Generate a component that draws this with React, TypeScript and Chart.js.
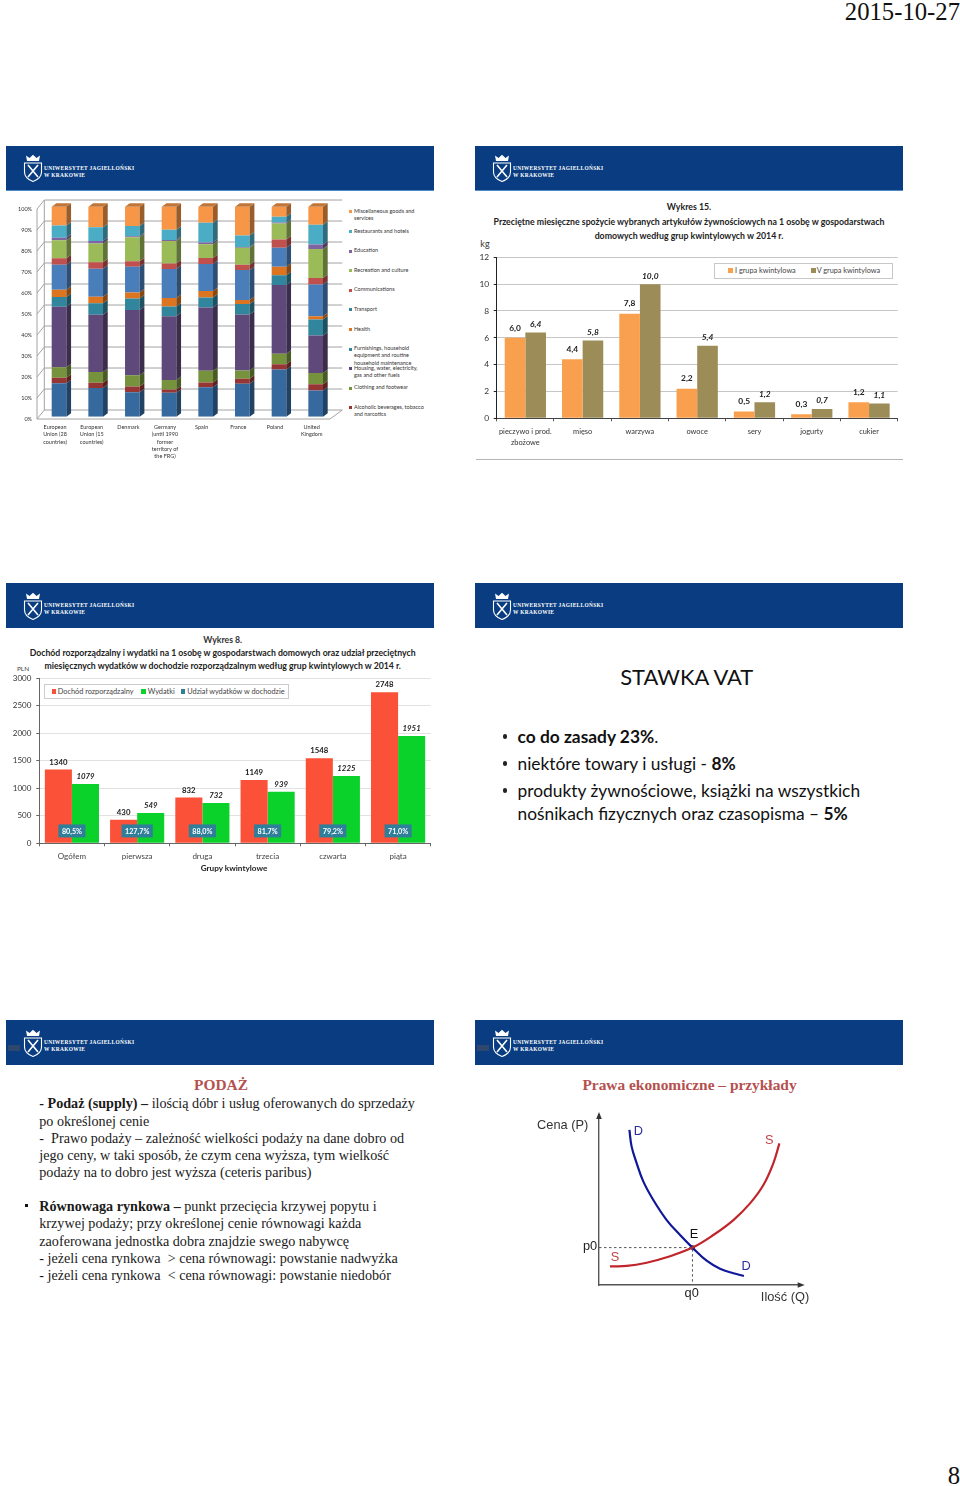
import React, { useEffect, useRef } from "react";
import { Chart, registerables } from "chart.js";

Chart.register(...registerables);

/* ---------- data ---------- */
const countries = [
  ["European", "Union (28", "countries)"],
  ["European", "Union (15", "countries)"],
  ["Denmark"],
  ["Germany", "(until 1990", "former", "territory of", "the FRG)"],
  ["Spain"],
  ["France"],
  ["Poland"],
  ["United", "Kingdom"],
];
const food = [15.9, 13.7, 11.7, 11.4, 14, 15.7, 22.5, 12.5];
const alcohol = [2.7, 2.5, 2.7, 1.6, 2.3, 2.4, 2.5, 2.9];
const clothing = [4.9, 5.1, 5.3, 4.5, 5.6, 3.9, 5, 5.4];
const housing = [28.8, 27.3, 31.1, 30.3, 30.1, 26.7, 32.7, 17.9];
const furnishings = [4.7, 5.4, 5.5, 4.7, 4.8, 5, 4.6, 7.6];
const health = [3.5, 3.1, 2.9, 4, 3, 1.9, 4.1, 1.5];
const transport = [11.8, 13.4, 12.2, 13.8, 12.9, 14.2, 9.1, 15.2];
const communications = [3.1, 3, 2.6, 2.7, 2.9, 2.6, 3.9, 3];
const recreation = [8.6, 9, 11.4, 10.7, 6.5, 8.1, 7.6, 13.8];
const education = [1.2, 1.2, 0.5, 0.4, 0.8, 0.3, 0.5, 2.2];
const restaurants = [5.8, 6.5, 4.9, 4.9, 9.5, 5.5, 2.7, 9.4];
const misc = [9, 9.8, 9.2, 11, 7.6, 13.7, 4.8, 8.6];
const stackSeries = [food, alcohol, clothing, housing, furnishings, health, transport, communications, recreation, education, restaurants, misc];
const stackColors = ["#366a9f", "#963634", "#76923c", "#5f497a", "#31859c", "#dc7420", "#4a7ebb", "#c0504d", "#9bbb59", "#8064a2", "#4bacc6", "#f79646"];
const stackLegend: [string[], number, string][] = [
  [["Miscellaneous goods and", "services"], 211.5, "#f79646"],
  [["Restaurants and hotels"], 231.5, "#4bacc6"],
  [["Education"], 251, "#8064a2"],
  [["Recreation and culture"], 270.5, "#9bbb59"],
  [["Communications"], 290, "#c0504d"],
  [["Transport"], 309.5, "#31859c"],
  [["Health"], 329.5, "#dc7420"],
  [["Furnishings, household", "equipment and routine", "household maintenance"], 349, "#31859c"],
  [["Housing, water, electricity,", "gas and other fuels"], 368.5, "#5f497a"],
  [["Clothing and footwear"], 388, "#76923c"],
  [["Alcoholic beverages, tobacco", "and narcotics"], 407.5, "#963634"],
];

const foods = [["pieczywo i prod.", "zbożowe"], "mięso", "warzywa", "owoce", "sery", "jogurty", "cukier"];
const foodQ1 = [6.0, 4.4, 7.8, 2.2, 0.5, 0.3, 1.2];
const foodQ5 = [6.4, 5.8, 10.0, 5.4, 1.2, 0.7, 1.1];

const groups = ["Ogółem", "pierwsza", "druga", "trzecia", "czwarta", "piąta"];
const income = [1340, 430, 832, 1149, 1548, 2748];
const spending = [1079, 549, 732, 939, 1225, 1951];
const shares = ["80,5%", "127,7%", "88,0%", "81,7%", "79,2%", "71,0%"];

const demandCurve = [[15, 91.2], [16.1, 81.4], [18.6, 71.6], [21.9, 60.8], [26.8, 50], [33.4, 38.2], [40, 29.4], [46.1, 22], [53.1, 14.3], [59.7, 9.6], [66.3, 6.9], [71.5, 5.3]];
const supplyCurve = [[5.4, 11], [13.7, 11.2], [23.5, 13.1], [33.4, 16.3], [46.1, 22], [56.4, 29.4], [66.3, 38.2], [74.5, 48], [81.1, 58.8], [86, 71.6], [89, 83.3]];
const equilibrium = [46.1, 22];

/* ---------- helpers ---------- */
const SANS = "Lato, 'Open Sans', sans-serif";
const SERIF = "'Liberation Serif', serif";

function shade(hex: string, k: number) {
  const n = parseInt(hex.slice(1), 16);
  const c = [(n >> 16) & 255, (n >> 8) & 255, n & 255].map((v) => Math.round(v * k));
  return `rgb(${c[0]},${c[1]},${c[2]})`;
}
const pt = (p: number[]) => ({ x: p[0], y: p[1] });

function ChartBox({ left, top, width, height, make }: any) {
  const ref = useRef<HTMLCanvasElement>(null);
  useEffect(() => {
    const c = new Chart(ref.current as any, make());
    return () => c.destroy();
  }, []);
  return <canvas ref={ref} width={width} height={height} style={{ position: "absolute", left, top, width, height, display: "block", filter: "blur(0.4px)" }} />;
}

function T({ x, y, size, color = "#222", font = SANS, weight = 400, italic = false, anchor = "left", children, spacing }: any) {
  const tx = anchor === "center" ? "-50%" : anchor === "right" ? "-100%" : "0";
  return (
    <div style={{ position: "absolute", left: x, top: y, transform: `translate(${tx},-50%)`, fontSize: size, color, fontFamily: font, fontWeight: weight, fontStyle: italic ? "italic" : "normal", whiteSpace: "pre", lineHeight: 1, letterSpacing: spacing }}>
      {children}
    </div>
  );
}
function Swatch({ x, y, w = 3, h = 3, color }: any) {
  return <div style={{ position: "absolute", left: x, top: y - h / 2, width: w, height: h, background: color }} />;
}
function Dot({ x, y }: any) {
  return <div style={{ position: "absolute", left: x - 2.1, top: y - 2.1, width: 4.2, height: 4.2, borderRadius: "50%", background: "#222" }} />;
}
function Logo({ x, y }: any) {
  return (
    <svg style={{ position: "absolute", left: x, top: y }} width="20" height="29" viewBox="0 0 20 29">
      <g fill="#fff">
        <path d="M4 7 L3 1.5 L6.5 4 L10 0.8 L13.5 4 L17 1.5 L16 7 Z" />
      </g>
      <path d="M1.5 9 H18.5 V18 C18.5 23 14 26 10 27.5 C6 26 1.5 23 1.5 18 Z" fill="none" stroke="#fff" strokeWidth="1.1" />
      <path d="M5 11 L15 23 M15 11 L5 23" stroke="#fff" strokeWidth="1.6" />
    </svg>
  );
}
function Header({ x, y, edge, ghost }: any) {
  return (
    <>
      <div style={{ position: "absolute", left: x, top: y, width: 428, height: 45, background: "#093c80", borderBottom: edge ? "1px solid #4f8bc4" : undefined, boxSizing: "border-box" }} />
      {ghost && <div style={{ position: "absolute", left: x + 2, top: y + 25, width: 12, height: 6, background: "#3a4a68", opacity: 0.8 }} />}
      <Logo x={x + 17} y={y + 8.5} />
      <T x={x + 38} y={y + 23} size={5.4} color="#fff" font={SERIF} weight={700} spacing="0.32px">UNIWERSYTET JAGIELLOŃSKI</T>
      <T x={x + 38} y={y + 30} size={5.4} color="#fff" font={SERIF} weight={700} spacing="0.32px">W KRAKOWIE</T>
    </>
  );
}

const baseOpts = { responsive: false, animation: false as const, events: [] as any[] };

/* ---------- chart configs ---------- */
function makeStack() {
  const depth = { dx: 4.7, dy: 3.5 };
  const wall = {
    id: "wall",
    beforeDatasetsDraw(c: any) {
      const { ctx, scales } = c;
      const y = scales.y;
      ctx.save();
      ctx.strokeStyle = "#a3a3a3";
      ctx.lineWidth = 1;
      const x0 = 37, x1 = 44.3, x2 = 342.3;
      for (const t of y.ticks) {
        const py = y.getPixelForValue(t.value) - 6.67;
        ctx.beginPath();
        ctx.moveTo(x0, py + 9);
        ctx.lineTo(x1, py);
        ctx.lineTo(x2, py);
        ctx.stroke();
      }
      const by = y.getPixelForValue(0);
      ctx.beginPath();
      ctx.moveTo(x0, by + 2.33);
      ctx.lineTo(330, by + 2.33);
      ctx.lineTo(x2, by - 6.67);
      ctx.moveTo(x0, by + 2.33);
      ctx.lineTo(x0, y.getPixelForValue(100) + 2.33);
      ctx.moveTo(x1, by - 6.67);
      ctx.lineTo(x1, y.getPixelForValue(100) - 6.67);
      ctx.stroke();
      ctx.restore();
    },
    afterDatasetsDraw(c: any) {
      const ctx = c.ctx;
      const metas = c.getSortedVisibleDatasetMetas();
      ctx.save();
      metas.forEach((m: any, mi: number) => {
        const col = stackColors[m.index];
        m.data.forEach((b: any) => {
          const r = b.x + b.width / 2, l = b.x - b.width / 2;
          ctx.fillStyle = shade(col, 0.62);
          ctx.beginPath();
          ctx.moveTo(r, b.y);
          ctx.lineTo(r + depth.dx, b.y - depth.dy);
          ctx.lineTo(r + depth.dx, b.base - depth.dy);
          ctx.lineTo(r, b.base);
          ctx.closePath();
          ctx.fill();
          if (mi === metas.length - 1) {
            ctx.fillStyle = shade(col, 0.78);
            ctx.beginPath();
            ctx.moveTo(l, b.y);
            ctx.lineTo(l + depth.dx, b.y - depth.dy);
            ctx.lineTo(r + depth.dx, b.y - depth.dy);
            ctx.lineTo(r, b.y);
            ctx.closePath();
            ctx.fill();
          }
        });
      });
      ctx.restore();
    },
  };
  return {
    type: "bar",
    data: {
      labels: countries,
      datasets: stackSeries.map((data, i) => ({ data, backgroundColor: stackColors[i], categoryPercentage: 1, barPercentage: 0.4, borderWidth: 0 })),
    },
    options: {
      ...baseOpts,
      layout: { padding: { left: 0, top: 21.7, right: 11, bottom: 0 } },
      plugins: { legend: { display: false }, tooltip: { enabled: false } },
      scales: {
        x: {
          stacked: true,
          grid: { display: false, drawTicks: false },
          border: { display: false },
          afterFit: (s: any) => { s.height = 53.3; },
          ticks: { autoSkip: false, maxRotation: 0, minRotation: 0, labelOffset: -4, padding: 7, color: "#333", font: { family: SANS, size: 5.5, lineHeight: 1.33 } },
        },
        y: {
          stacked: true,
          min: 0,
          max: 100,
          grid: { display: false, drawTicks: false },
          border: { display: false },
          afterFit: (s: any) => { s.width = 40.7; },
          ticks: { stepSize: 10, labelOffset: 2.33, padding: 8.7, color: "#333", callback: (v: any) => `${v}%`, font: { family: SANS, size: 5.5 } },
        },
      },
    },
    plugins: [wall],
  };
}

function makeFood() {
  const labels = {
    id: "valueLabels",
    afterDatasetsDraw(c: any) {
      const ctx = c.ctx;
      ctx.save();
      ctx.textAlign = "center";
      ctx.textBaseline = "middle";
      ctx.fillStyle = "#1c1c1c";
      c.getSortedVisibleDatasetMetas().forEach((m: any) => {
        const second = m.index === 1;
        ctx.font = `${second ? "italic " : ""}bold 8.4px ${SANS}`;
        m.data.forEach((b: any, i: number) => {
          const v = (second ? foodQ5 : foodQ1)[i].toFixed(1).replace(".", ",");
          ctx.fillText(v, b.x, b.y - (second ? 8.3 : 10));
        });
      });
      ctx.restore();
    },
  };
  return {
    type: "bar",
    data: {
      labels: foods,
      datasets: [
        { label: "I grupa kwintylowa", data: foodQ1, backgroundColor: "#f9a04e", categoryPercentage: 0.72, barPercentage: 1 },
        { label: "V grupa kwintylowa", data: foodQ5, backgroundColor: "#9c8d58", categoryPercentage: 0.72, barPercentage: 1 },
      ],
    },
    options: {
      ...baseOpts,
      layout: { padding: { left: 0, top: 17.3, right: 12.3, bottom: 0 } },
      plugins: { legend: { display: false }, tooltip: { enabled: false } },
      scales: {
        x: {
          grid: { drawOnChartArea: false, drawTicks: true, tickLength: 3, color: "#555" },
          border: { color: "#444", width: 1 },
          afterFit: (s: any) => { s.height = 36.7; },
          ticks: { autoSkip: false, maxRotation: 0, minRotation: 0, padding: 4, color: "#333", font: { family: SANS, size: 7.4, lineHeight: 1.58 } },
        },
        y: {
          min: 0,
          max: 12,
          grid: { color: "#c6c6c6", tickColor: "#222", tickLength: 3 },
          border: { color: "#222", width: 1 },
          afterFit: (s: any) => { s.width = 26.7; },
          ticks: { stepSize: 2, padding: 4.5, color: "#333", font: { family: SANS, size: 8.4 } },
        },
      },
    },
    plugins: [labels],
  };
}

function makeIncome() {
  const labels = {
    id: "valueLabels",
    afterDatasetsDraw(c: any) {
      const ctx = c.ctx;
      ctx.save();
      ctx.textAlign = "center";
      ctx.textBaseline = "middle";
      c.getSortedVisibleDatasetMetas().forEach((m: any) => {
        const second = m.index === 1;
        ctx.font = `${second ? "italic " : ""}bold 7.8px ${SANS}`;
        ctx.fillStyle = "#1c1c1c";
        m.data.forEach((b: any, i: number) => {
          ctx.fillText(String((second ? spending : income)[i]), b.x, b.y - 7.5);
        });
      });
      const y = c.scales.y.getPixelForValue(225);
      const x = c.scales.x;
      ctx.font = `bold 7.2px ${SANS}`;
      shares.forEach((s, i) => {
        const cx = x.getPixelForValue(i);
        const w = ctx.measureText(s).width + 7;
        ctx.fillStyle = "#2f7f9a";
        ctx.fillRect(cx - w / 2, y - 6.5, w, 13);
        ctx.fillStyle = "#fff";
        ctx.fillText(s, cx, y + 0.3);
      });
      ctx.restore();
    },
  };
  return {
    type: "bar",
    data: {
      labels: groups,
      datasets: [
        { label: "Dochód rozporządzalny", data: income, backgroundColor: "#fb5138", categoryPercentage: 0.83, barPercentage: 1 },
        { label: "Wydatki", data: spending, backgroundColor: "#0bd22b", categoryPercentage: 0.83, barPercentage: 1 },
      ],
    },
    options: {
      ...baseOpts,
      layout: { padding: { left: 0, top: 16.3, right: 9.3, bottom: 0 } },
      plugins: { legend: { display: false }, tooltip: { enabled: false } },
      scales: {
        x: {
          grid: { drawOnChartArea: false, drawTicks: true, tickLength: 3, color: "#666" },
          border: { color: "#666", width: 1 },
          afterFit: (s: any) => { s.height = 18.7; },
          ticks: { autoSkip: false, maxRotation: 0, minRotation: 0, padding: 5, color: "#444", font: { family: SANS, size: 8 } },
        },
        y: {
          min: 0,
          max: 3000,
          grid: { color: "#e2e2e2", tickColor: "#666", tickLength: 3 },
          border: { color: "#666", width: 1 },
          afterFit: (s: any) => { s.width = 39.3; },
          ticks: { stepSize: 500, padding: 5, color: "#333", callback: (v: any) => String(v), font: { family: SANS, size: 8 } },
        },
      },
    },
    plugins: [labels],
  };
}

function makeCurves() {
  const arrows = {
    id: "arrows",
    afterDraw(c: any) {
      const { ctx, chartArea: a } = c;
      ctx.save();
      ctx.fillStyle = "#333";
      ctx.beginPath();
      ctx.moveTo(a.left, a.top - 3);
      ctx.lineTo(a.left - 2.8, a.top + 4);
      ctx.lineTo(a.left + 2.8, a.top + 4);
      ctx.closePath();
      ctx.moveTo(a.right + 3, a.bottom);
      ctx.lineTo(a.right - 4, a.bottom - 2.8);
      ctx.lineTo(a.right - 4, a.bottom + 2.8);
      ctx.closePath();
      ctx.fill();
      ctx.restore();
    },
  };
  return {
    type: "line",
    data: {
      datasets: [
        { data: [[0, equilibrium[1]], equilibrium, [equilibrium[0], 0]].map(pt), borderColor: "#555", borderWidth: 1, borderDash: [2.5, 2.5], pointRadius: 0, tension: 0 },
        { data: supplyCurve.map(pt), borderColor: "#c0252c", borderWidth: 2.2, pointRadius: 0, tension: 0.4 },
        { data: demandCurve.map(pt), borderColor: "#10189a", borderWidth: 2.2, pointRadius: 0, tension: 0.4 },
        { data: [pt(equilibrium)], pointRadius: 2.4, pointBackgroundColor: "#111", pointBorderWidth: 0, showLine: false },
      ],
    },
    options: {
      ...baseOpts,
      layout: { padding: { left: 9, top: 10, right: 13.3, bottom: 10 } },
      plugins: { legend: { display: false }, tooltip: { enabled: false } },
      scales: {
        x: { type: "linear", min: 0, max: 100, grid: { display: false, drawTicks: false }, ticks: { display: false }, border: { color: "#555", width: 1.4 } },
        y: { type: "linear", min: 0, max: 100, grid: { display: false, drawTicks: false }, ticks: { display: false }, border: { color: "#555", width: 1.4 } },
      },
    },
    plugins: [arrows],
  };
}

/* ---------- page ---------- */
export default function App() {
  const serif = { font: SERIF, size: 14.15, color: "#1a1a1a" };
  return (
    <div style={{ position: "absolute", left: 0, top: 0, width: 960, height: 1486, overflow: "hidden", background: "#fff" }}>
      <T x={960} y={12} size={24.7} font={SERIF} anchor="right" color="#111">2015-10-27</T>
      <T x={960} y={1476} size={24.7} font={SERIF} anchor="right" color="#111">8</T>

      <Header x={6} y={145.5} edge />
      <Header x={475} y={145.5} edge />
      <Header x={6} y={583} />
      <Header x={475} y={583} />
      <Header x={6} y={1020} ghost />
      <Header x={475} y={1020} ghost />

      {/* stacked chart */}
      <ChartBox left={0} top={185} width={345} height={285} make={makeStack} />
      {stackLegend.map(([lines, y, color], i) => (
        <React.Fragment key={i}>
          <Swatch x={349.3} y={y} color={color} />
          {lines.map((l, j) => (
            <T key={j} x={354} y={y + j * 7.4} size={5.5} color="#333">{l}</T>
          ))}
        </React.Fragment>
      ))}

      {/* food chart */}
      <T x={689} y={207} size={8.75} weight={700} anchor="center">Wykres 15.</T>
      <T x={689} y={221.7} size={8.75} weight={700} anchor="center">Przeciętne miesięczne spożycie wybranych artykułów żywnościowych na 1 osobę w gospodarstwach</T>
      <T x={689} y={235.7} size={8.75} weight={700} anchor="center">domowych według grup kwintylowych w 2014 r.</T>
      <T x={485} y={243} size={9} anchor="center" color="#333">kg</T>
      <ChartBox left={470} top={240} width={440} height={215} make={makeFood} />
      <div style={{ position: "absolute", left: 714, top: 262.5, width: 178.5, height: 16, background: "#fff", border: "1px solid #c8c8c8", boxSizing: "border-box" }} />
      <Swatch x={728.3} y={270.7} w={5} h={5} color="#f9a04e" />
      <T x={735} y={270.7} size={7.3} color="#444">I grupa kwintylowa</T>
      <Swatch x={810.7} y={270.7} w={5} h={5} color="#9c8d58" />
      <T x={816.7} y={270.7} size={7.3} color="#444">V grupa kwintylowa</T>
      <div style={{ position: "absolute", left: 476, top: 459, width: 427, height: 1, background: "#b5b5b5" }} />

      {/* income chart */}
      <T x={222.7} y={640} size={8.7} anchor="center" weight={700} color="#333">Wykres 8.</T>
      <T x={222.7} y={653} size={8.7} anchor="center" weight={700}>Dochód rozporządzalny i wydatki na 1 osobę w gospodarstwach domowych oraz udział przeciętnych</T>
      <T x={222.7} y={665.7} size={8.7} anchor="center" weight={700}>miesięcznych wydatków w dochodzie rozporządzalnym według grup kwintylowych w 2014 r.</T>
      <T x={23} y={669} size={6.5} anchor="center" color="#444">PLN</T>
      <ChartBox left={0} top={662} width={440} height={200} make={makeIncome} />
      <div style={{ position: "absolute", left: 44.3, top: 684.3, width: 245, height: 15, background: "#fff", border: "1px solid #ccc", boxSizing: "border-box" }} />
      <Swatch x={51.5} y={691.7} w={4.2} h={4.6} color="#fb5138" />
      <T x={57.7} y={691.7} size={7.35} color="#444">Dochód rozporządzalny</T>
      <Swatch x={141.4} y={691.7} w={4.2} h={4.6} color="#0bd22b" />
      <T x={147.7} y={691.7} size={7.35} color="#444">Wydatki</T>
      <Swatch x={181} y={691.7} w={4.2} h={4.6} color="#2f7f9a" />
      <T x={187.3} y={691.7} size={7.35} color="#444">Udział wydatków w dochodzie</T>
      <T x={234} y={868} size={8.2} weight={700} anchor="center" color="#222">Grupy kwintylowe</T>

      {/* VAT slide */}
      <T x={686.7} y={677} size={21.9} anchor="center" color="#111">STAWKA VAT</T>
      <Dot x={505} y={736.5} />
      <T x={517.5} y={736.5} size={17.35} color="#111"><b>co do zasady 23%</b>.</T>
      <Dot x={505} y={763.5} />
      <T x={517.5} y={763.5} size={17.35} color="#111">niektóre towary i usługi - <b>8%</b></T>
      <Dot x={505} y={790.5} />
      <T x={517.5} y={791} size={17.35} color="#111">produkty żywnościowe, książki na wszystkich</T>
      <T x={517.5} y={814} size={17.35} color="#111">nośnikach fizycznych oraz czasopisma – <b>5%</b></T>

      {/* supply slide */}
      <T x={221} y={1085} size={15.4} font={SERIF} weight={700} color="#b5504f" anchor="center">PODAŻ</T>
      <T x={39.3} y={1103.3} {...serif}><b>- Podaż (supply) –</b> ilością dóbr i usług oferowanych do sprzedaży</T>
      <T x={39.3} y={1120.7} {...serif}>po określonej cenie</T>
      <T x={39.3} y={1137.7} {...serif}>-  Prawo podaży – zależność wielkości podaży na dane dobro od</T>
      <T x={39.3} y={1155} {...serif}>jego ceny, w taki sposób, że czym cena wyższa, tym wielkość</T>
      <T x={39.3} y={1171.7} {...serif}>podaży na to dobro jest wyższa (ceteris paribus)</T>
      <div style={{ position: "absolute", left: 24.5, top: 1204, width: 3.4, height: 3.4, background: "#111" }} />
      <T x={39.3} y={1206} {...serif}><b>Równowaga rynkowa –</b> punkt przecięcia krzywej popytu i</T>
      <T x={39.3} y={1223.3} {...serif}>krzywej podaży; przy określonej cenie równowagi każda</T>
      <T x={39.3} y={1240.7} {...serif}>zaoferowana jednostka dobra znajdzie swego nabywcę</T>
      <T x={39.3} y={1257.7} {...serif}>- jeżeli cena rynkowa  &gt; cena równowagi: powstanie nadwyżka</T>
      <T x={39.3} y={1275} {...serif}>- jeżeli cena rynkowa  &lt; cena równowagi: powstanie niedobór</T>

      {/* supply and demand chart */}
      <T x={689.5} y={1085} size={15.4} font={SERIF} weight={700} color="#b5504f" anchor="center">Prawa ekonomiczne – przykłady</T>
      <ChartBox left={590} top={1105} width={225} height={190} make={makeCurves} />
      {[
        ["Cena (P)", 562.7, 1125, "#333"],
        ["D", 638.3, 1130.7, "#2a2f9c"],
        ["S", 769.3, 1140, "#c0454a"],
        ["E", 694, 1234, "#111"],
        ["p0", 590, 1246, "#222"],
        ["S", 615, 1257.3, "#c0454a"],
        ["D", 746, 1266, "#2a2f9c"],
        ["q0", 691.7, 1292.7, "#222"],
        ["Ilość (Q)", 785, 1296.7, "#333"],
      ].map(([t, x, y, c], i) => (
        <T key={i} x={x} y={y} size={12.8} font="'Liberation Sans', sans-serif" color={c} anchor="center">{t}</T>
      ))}
    </div>
  );
}
